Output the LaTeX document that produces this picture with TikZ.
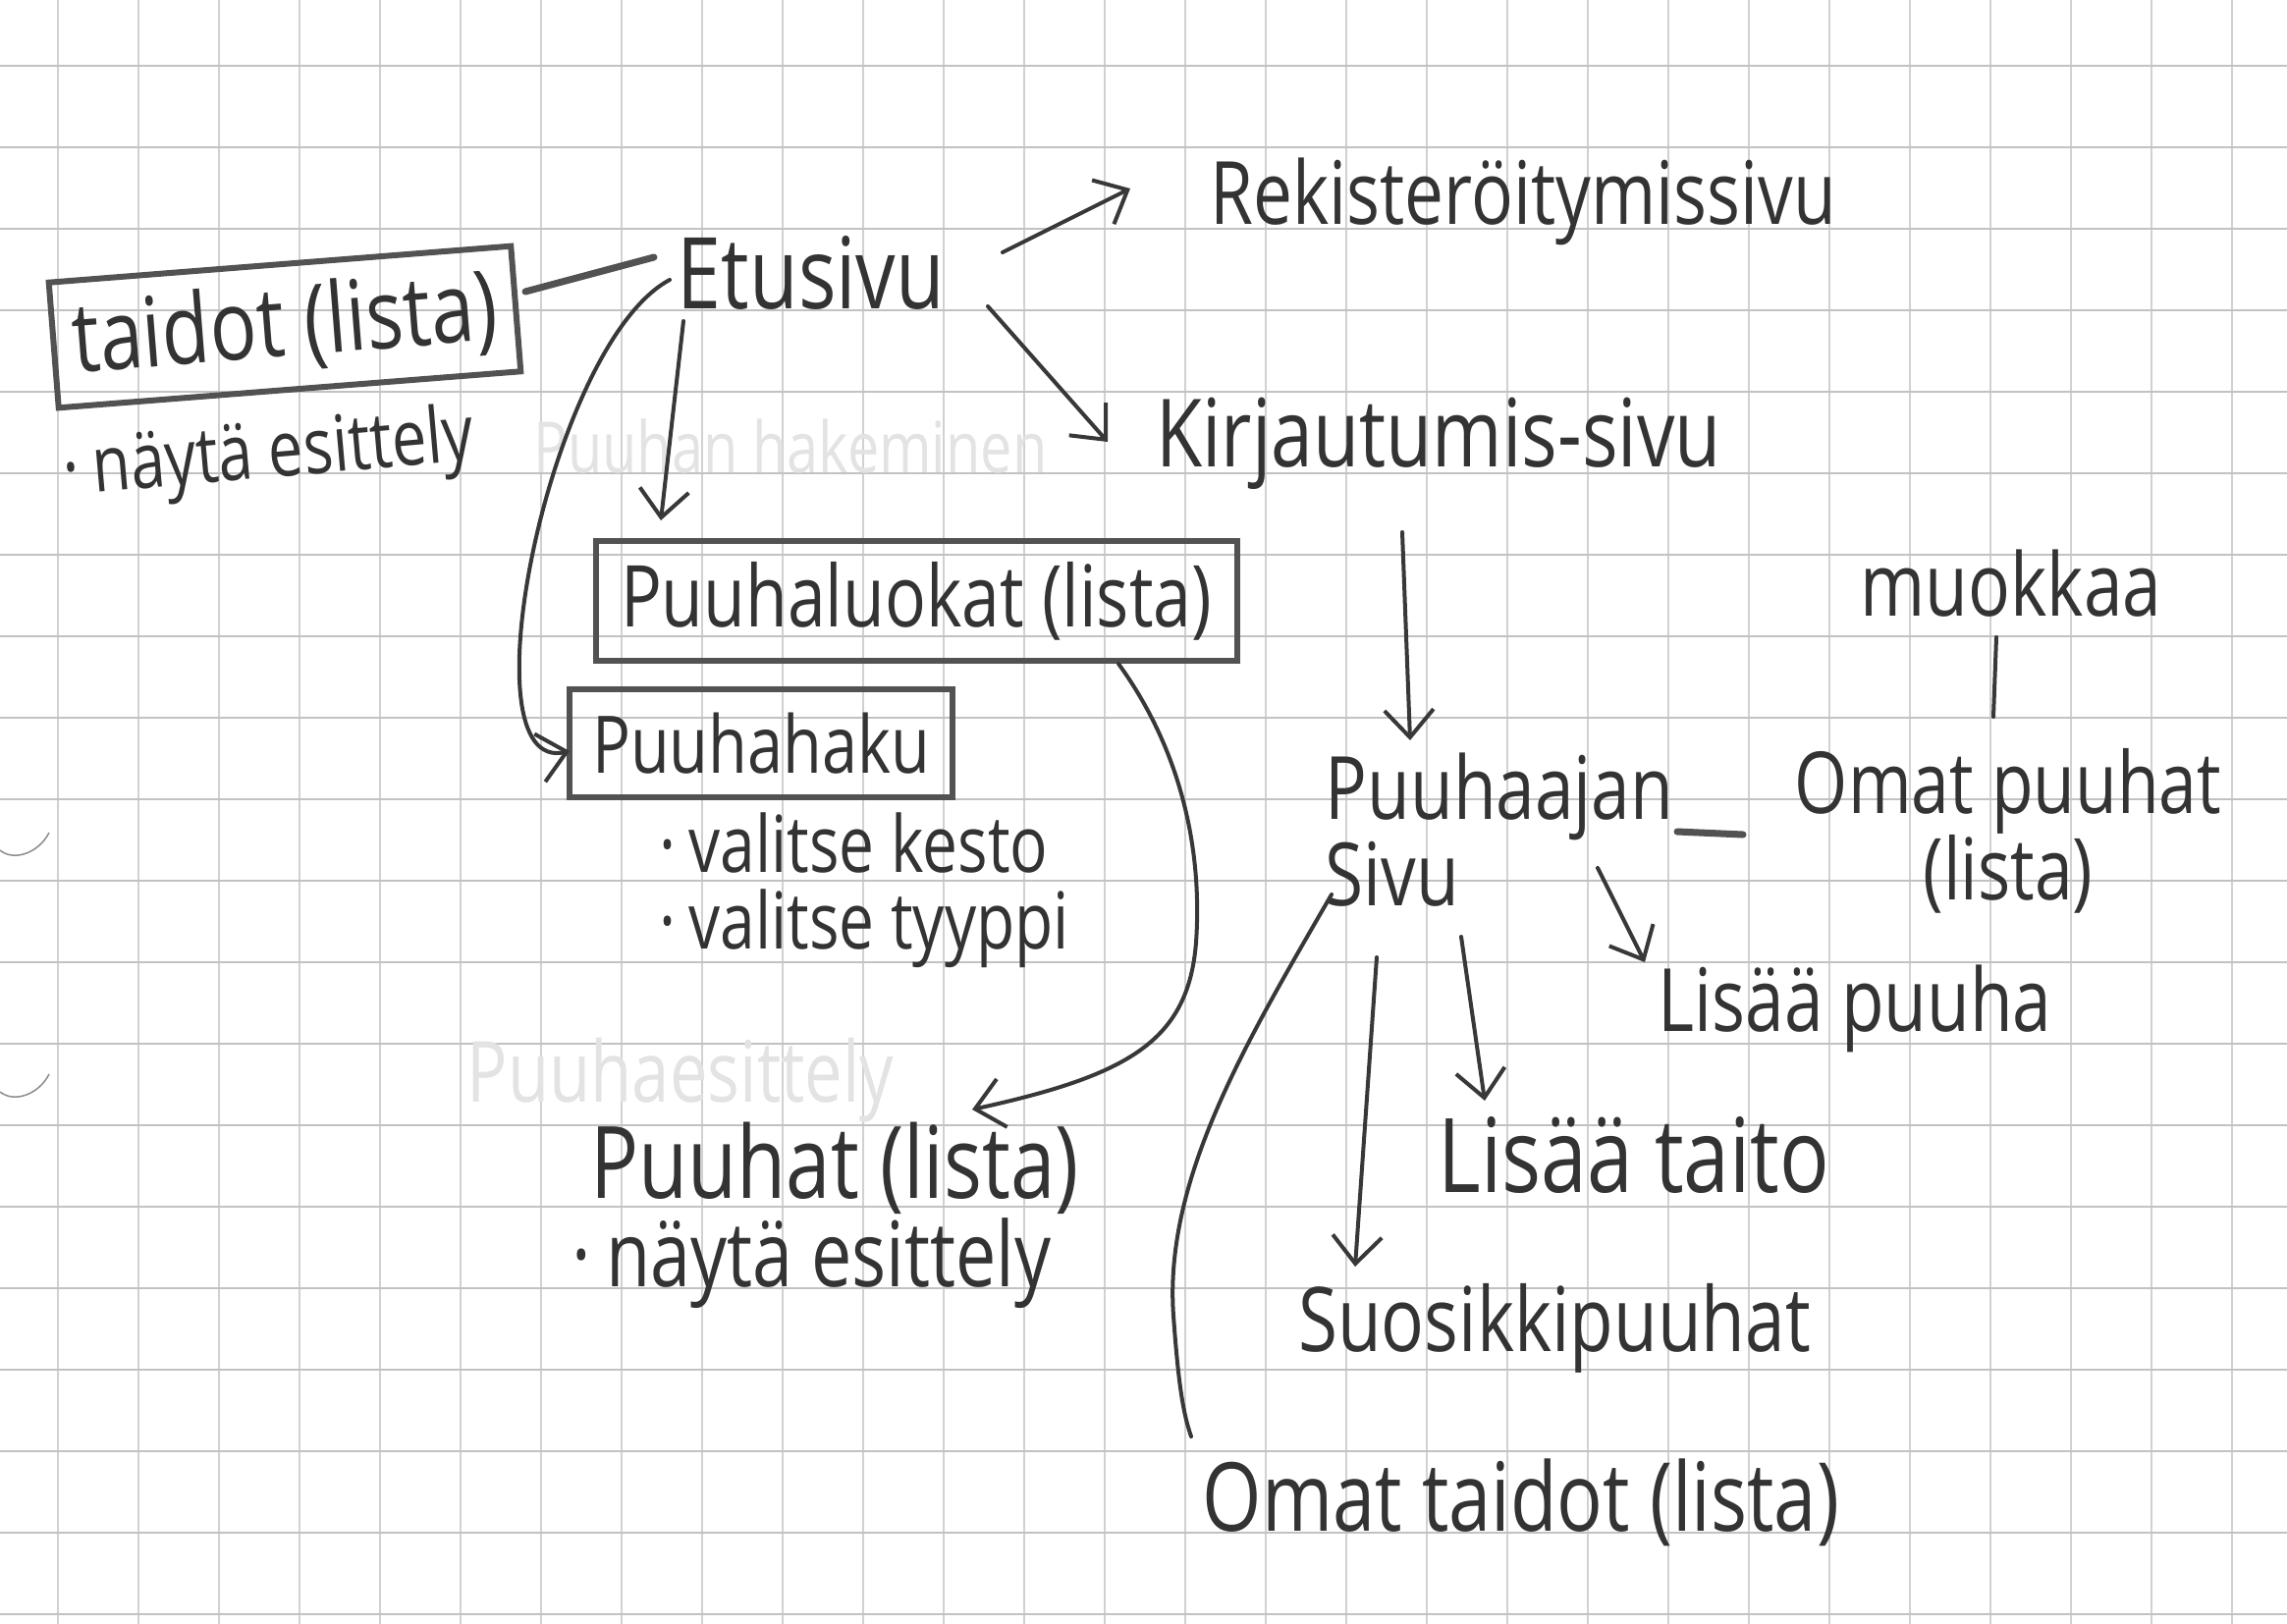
\documentclass[tikz,border=0pt]{standalone}
\usepackage{fontspec}
\setmainfont{Open Sans}[FakeStretch=0.8]
\usetikzlibrary{arrows.meta,calc}
\newcommand\hsz[1]{\fontsize{#1}{#1}\selectfont}
\tikzset{
  hgrid/.style={draw=black!24, line width=2pt},
  vgrid/.style={draw=black!18, line width=1.5pt},
  pencil/.style={draw=black!78, line width=4pt, line cap=round, line join=round},
  arr/.style={pencil, -{Straight Barb[length=28pt,width=50pt]}},
  heavy/.style={pencil, line width=7pt, draw=black!68},
  lbl/.style={text=black!80, inner sep=0pt},
  box/.style={draw=black!68, line width=6pt, inner sep=0pt, text=black!80},
  faint/.style={text=black!11, inner sep=0pt},
  hole/.style={draw=black!45, line width=1.5pt},
}
\begin{document}
\begin{tikzpicture}[x=1pt,y=-1pt]
\fill[white] (0,0) rectangle (2329,1654);
\useasboundingbox (0,0) rectangle (2329,1654);
% grid paper
\foreach \i in {0,...,27} \draw[vgrid] ({59+82*\i},0) -- ({59+82*\i},1654);
\foreach \j in {0,...,19} \draw[hgrid] (0,{67+83*\j}) -- (2329,{67+83*\j});
% punch hole edges
\draw[hole] (0,866) .. controls (15,878) and (40,868) .. (50,848);
\draw[hole] (0,1112) .. controls (15,1124) and (40,1114) .. (50,1094);

% faint erased texts
\node[faint, font=\hsz{72}] (faintA) at (805,454) {Puuhan hakeminen};
\node[faint, font=\hsz{86}] (faintB) at (693,1100) {Puuhaesittely};

% nodes
\node[lbl, font=\hsz{101}] (etusivu) at (826,278) {Etusivu};
\node[lbl, font=\hsz{89}] (rek) at (1551,205) {Rekisteröitymissivu};
\node[lbl, font=\hsz{96}] (kirj) at (1465,452) {Kirjautumis-sivu};
\node[box, font=\hsz{99}, rotate=4.5, minimum width=472pt, minimum height=128pt] (taidot) at (290,333) {taidot (lista)};
\node[lbl, font=\hsz{79}, rotate=5, anchor=west] (taidotnote) at (65,484) {·\,näytä esittely};
\node[box, font=\hsz{87}, minimum width=653pt, minimum height=122pt] (luokat) at (933,612) {Puuhaluokat (lista)};
\node[box, font=\hsz{81}, minimum width=390pt, minimum height=110pt] (haku) at (775,757) {Puuhahaku};
\node[lbl, font=\hsz{80}, anchor=west] (kesto) at (671,858) {·\,valitse kesto};
\node[lbl, font=\hsz{80}, anchor=west] (tyyppi) at (671,946) {·\,valitse tyyppi};
\node[lbl, font=\hsz{102}] (puuhat) at (850,1190) {Puuhat (lista)};
\node[lbl, font=\hsz{92}, anchor=west] (puuhatnote) at (582,1287) {·\,näytä esittely};
\node[lbl, font=\fontsize{89}{80}\selectfont, align=left] (puuhaajan) at (1527,845) {Puuhaajan\\Sivu};
\node[lbl, font=\fontsize{87}{75}\selectfont, align=center] (omat) at (2045,846) {Omat puuhat\\(lista)};
\node[lbl, font=\hsz{89}] (muokkaa) at (2048,594) {muokkaa};
\node[lbl, font=\hsz{89}] (lisaapuuha) at (1889,1027) {Lisää puuha};
\node[lbl, font=\hsz{105}] (lisaataito) at (1664,1176) {Lisää taito};
\node[lbl, font=\hsz{91}] (suosikki) at (1583,1353) {Suosikkipuuhat};
\node[lbl, font=\hsz{97}] (omattaidot) at (1549,1530) {Omat taidot (lista)};

% connectors
\draw[heavy] ($(taidot)+(245,-36)$) -- ($(etusivu)+(-160,-16)$);
\draw[arr] ($(etusivu)+(195,-21)$) -- ($(rek)+(-400,-13)$);
\draw[arr] ($(etusivu)+(180,34)$) -- ($(kirj)+(-337,-2)$);
\draw[arr] ($(etusivu)+(-130,49)$) -- ($(luokat)+(-260,-82)$);
\draw[arr] ($(etusivu)+(-144,7)$) .. controls ($(etusivu)+(-266,72)$) and ($(haku)+(-305,33)$) .. ($(haku)+(-195,8)$);
\draw[arr] ($(luokat)+(206,64)$) .. controls (1200,760) and (1225,860) .. (1218,960)
   .. controls (1210,1060) and (1150,1095) .. ($(puuhat)+(140,-60)$);
\draw[arr] ($(kirj)+(-37,90)$) -- ($(puuhaajan)+(-91,-91)$);
\draw[heavy] ($(puuhaajan)+(181,2)$) -- ($(omat)+(-270,4)$);
\draw[pencil] ($(muokkaa)+(-15,55)$) -- ($(omat)+(-15,-116)$);
\draw[arr] ($(puuhaajan)+(100,39)$) -- ($(lisaapuuha)+(-214,-47)$);
\draw[arr] ($(puuhaajan)+(-39,109)$) -- ($(lisaataito)+(-152,-55)$);
\draw[arr] ($(puuhaajan)+(-125,130)$) -- ($(suosikki)+(-203,-63)$);
\draw[pencil] ($(puuhaajan)+(-171,66)$) .. controls (1270,1060) and (1185,1200) .. (1195,1340)
   .. controls (1200,1410) and (1205,1440) .. ($(omattaidot)+(-336,-67)$);
\end{tikzpicture}
\end{document}
